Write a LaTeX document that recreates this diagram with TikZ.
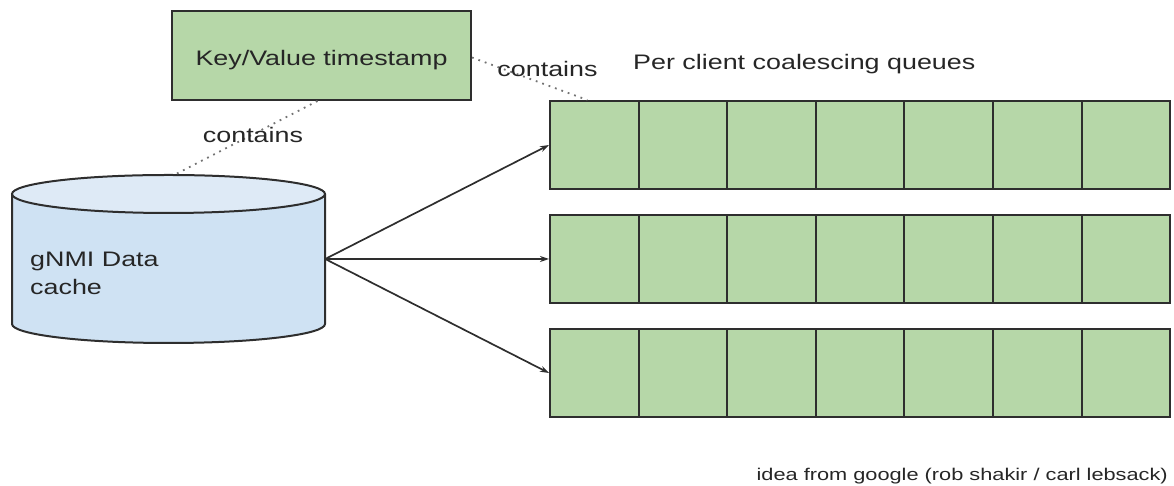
\documentclass[tikz,border=0pt]{standalone}
\usepackage{fontspec}
\setmainfont[FakeStretch=1.28]{Liberation Sans}
\usetikzlibrary{arrows.meta}
\definecolor{cellgreen}{HTML}{B6D7A8}
\definecolor{cacheblue}{HTML}{CFE2F3}
\definecolor{cachecap}{HTML}{DEEAF6}
\definecolor{edgegray}{HTML}{2E2E2E}
\definecolor{textgray}{HTML}{262626}
\tikzset{
  cell/.style={draw=edgegray, line width=2pt, fill=cellgreen,
    minimum width=88.6pt, minimum height=88pt, inner sep=0pt},
  kvbox/.style={draw=edgegray, line width=2pt, fill=cellgreen,
    minimum width=299pt, minimum height=89pt, inner sep=0pt,
    text height=21pt, text depth=0pt},
  lbl/.style={text=textgray, inner sep=0pt, font=\fontsize{21}{28}\selectfont},
  small/.style={text=textgray, inner sep=0pt, font=\fontsize{17}{20}\selectfont},
  contains/.style={draw=gray!90!black, line width=1.8pt, dash pattern=on 1.8pt off 5pt},
  feed/.style={draw=edgegray, line width=1.7pt, ->}
}
\begin{document}
\begin{tikzpicture}[x=1pt, y=1pt, >={Stealth[length=9pt,width=6pt]}]
  \useasboundingbox (0,0) rectangle (1174,486);

  % key/value record
  \node[kvbox, lbl] (kv) at (321.5,430.5) {Key/Value timestamp};

  % data cache drum
  \node[minimum width=313pt, minimum height=168pt, inner sep=0pt] (cache) at (168.5,227) {};
  \filldraw[fill=cacheblue, draw=edgegray, line width=2pt]
    (12,292) -- (12,162) arc[start angle=180, end angle=360, x radius=156.5, y radius=19] -- (325,292);
  \filldraw[fill=cachecap, draw=edgegray, line width=2pt]
    (168.5,292) ellipse[x radius=156.5, y radius=19];
  \node[lbl, anchor=west, align=left] (cachetxt) at (30,213) {gNMI Data\\cache};

  % queues, one row per client
  \foreach \r/\y in {1/341,2/227,3/113}
    \foreach \c in {0,...,6}
      \node[cell] (q\r-\c) at ({594.3+88.6*\c},\y) {};

  \draw[feed] (cache.east) -- (q1-0.west);
  \draw[feed] (cache.east) -- (q2-0.west);
  \draw[feed] (cache.east) -- (q3-0.west);

  \draw[contains] ([xshift=-4pt]kv.south) -- ([xshift=6pt]cache.north);
  \draw[contains] ([yshift=-2pt]kv.east) -- ([xshift=-7pt]q1-0.north);

  \node[lbl, anchor=base] (inA) at (253,343) {contains};
  \node[lbl, anchor=base] (inB) at (547.5,409) {contains};
  \node[lbl, anchor=base west] (title) at (633,416) {Per client coalescing queues};
  \node[small, anchor=base east] (credit) at (1168,5) {idea from google (rob shakir / carl lebsack)};
\end{tikzpicture}
\end{document}
